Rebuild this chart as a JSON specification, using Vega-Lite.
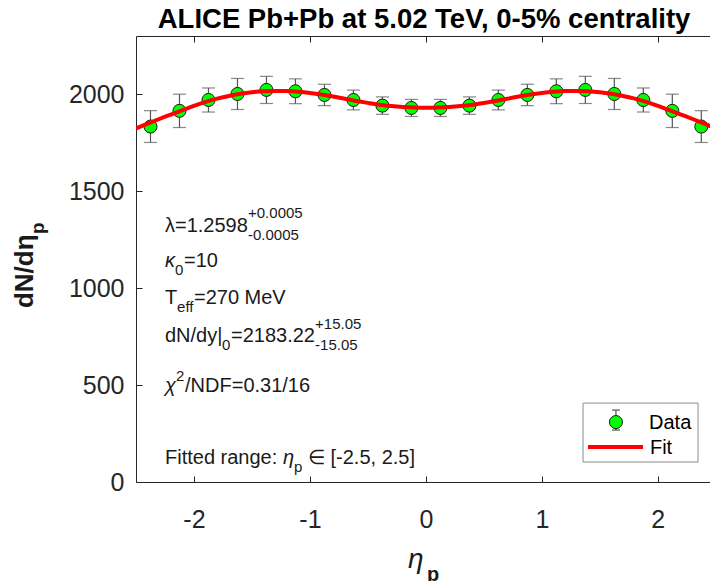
{
  "$schema": "https://vega.github.io/schema/vega-lite/v6.json",
  "width": 574,
  "height": 446,
  "autosize": {"type": "none"},
  "padding": {"left": 136, "top": 36, "right": 0, "bottom": 99},
  "background": "white",
  "config": {"view": {"stroke": null}, "font": "Liberation Sans"},
  "datasets": {
    "alice": [
      {"eta": -2.375, "dndeta": 1833, "err": 82},
      {"eta": -2.125, "dndeta": 1914, "err": 86},
      {"eta": -1.875, "dndeta": 1970, "err": 62},
      {"eta": -1.625, "dndeta": 2001, "err": 80},
      {"eta": -1.375, "dndeta": 2022, "err": 70},
      {"eta": -1.125, "dndeta": 2015, "err": 64},
      {"eta": -0.875, "dndeta": 1996, "err": 55},
      {"eta": -0.625, "dndeta": 1970, "err": 51},
      {"eta": -0.375, "dndeta": 1941, "err": 45},
      {"eta": -0.125, "dndeta": 1929, "err": 44},
      {"eta": 0.125, "dndeta": 1929, "err": 44},
      {"eta": 0.375, "dndeta": 1941, "err": 45},
      {"eta": 0.625, "dndeta": 1970, "err": 51},
      {"eta": 0.875, "dndeta": 1996, "err": 55},
      {"eta": 1.125, "dndeta": 2015, "err": 64},
      {"eta": 1.375, "dndeta": 2022, "err": 70},
      {"eta": 1.625, "dndeta": 2001, "err": 80},
      {"eta": 1.875, "dndeta": 1970, "err": 62},
      {"eta": 2.125, "dndeta": 1914, "err": 86},
      {"eta": 2.375, "dndeta": 1833, "err": 82}
    ],
    "fit": [
      {"eta": -2.5, "dndeta": 1824},
      {"eta": -2.4, "dndeta": 1848},
      {"eta": -2.3, "dndeta": 1872},
      {"eta": -2.2, "dndeta": 1895},
      {"eta": -2.1, "dndeta": 1918},
      {"eta": -2.0, "dndeta": 1940},
      {"eta": -1.9, "dndeta": 1960},
      {"eta": -1.8, "dndeta": 1977},
      {"eta": -1.7, "dndeta": 1991},
      {"eta": -1.6, "dndeta": 2002},
      {"eta": -1.5, "dndeta": 2010},
      {"eta": -1.4, "dndeta": 2015},
      {"eta": -1.3, "dndeta": 2017},
      {"eta": -1.2, "dndeta": 2016},
      {"eta": -1.1, "dndeta": 2012},
      {"eta": -1.0, "dndeta": 2006},
      {"eta": -0.9, "dndeta": 1998},
      {"eta": -0.8, "dndeta": 1988},
      {"eta": -0.7, "dndeta": 1976},
      {"eta": -0.6, "dndeta": 1965},
      {"eta": -0.5, "dndeta": 1955},
      {"eta": -0.4, "dndeta": 1946},
      {"eta": -0.3, "dndeta": 1939},
      {"eta": -0.2, "dndeta": 1934},
      {"eta": -0.1, "dndeta": 1931},
      {"eta": 0.0, "dndeta": 1930},
      {"eta": 0.1, "dndeta": 1931},
      {"eta": 0.2, "dndeta": 1934},
      {"eta": 0.3, "dndeta": 1939},
      {"eta": 0.4, "dndeta": 1946},
      {"eta": 0.5, "dndeta": 1955},
      {"eta": 0.6, "dndeta": 1965},
      {"eta": 0.7, "dndeta": 1976},
      {"eta": 0.8, "dndeta": 1988},
      {"eta": 0.9, "dndeta": 1998},
      {"eta": 1.0, "dndeta": 2006},
      {"eta": 1.1, "dndeta": 2012},
      {"eta": 1.2, "dndeta": 2016},
      {"eta": 1.3, "dndeta": 2017},
      {"eta": 1.4, "dndeta": 2015},
      {"eta": 1.5, "dndeta": 2010},
      {"eta": 1.6, "dndeta": 2002},
      {"eta": 1.7, "dndeta": 1991},
      {"eta": 1.8, "dndeta": 1977},
      {"eta": 1.9, "dndeta": 1960},
      {"eta": 2.0, "dndeta": 1940},
      {"eta": 2.1, "dndeta": 1918},
      {"eta": 2.2, "dndeta": 1895},
      {"eta": 2.3, "dndeta": 1872},
      {"eta": 2.4, "dndeta": 1848},
      {"eta": 2.5, "dndeta": 1824}
    ]
  },
  "resolve": {"axis": {"x": "independent"}},
  "layer": [
    {
      "data": {"name": "alice"},
      "mark": {"type": "errorbar", "ticks": {"size": 13}, "color": "#555555", "thickness": 1.2},
      "encoding": {
        "x": {"field": "eta", "type": "quantitative", "scale": {"domain": [-2.5, 2.45], "nice": false, "zero": false},
              "axis": {"orient": "bottom", "values": [-2, -1, 0, 1, 2], "labelExpr": "'' + datum.value", "title": null, "grid": false, "labelFont": "Liberation Sans", "labelFontSize": 25, "labelColor": "#262626", "tickColor": "#262626", "domainColor": "#262626", "tickSize": -6, "labelPadding": 51, "labelBaseline": "alphabetic"}},
        "y": {"field": "dndeta", "type": "quantitative", "scale": {"domain": [0, 2300], "nice": false},
              "axis": {"values": [0, 500, 1000, 1500, 2000], "labelExpr": "'' + datum.value", "title": null, "grid": false, "labelFont": "Liberation Sans", "labelFontSize": 25, "labelColor": "#262626", "tickColor": "#262626", "domainColor": "#262626", "tickSize": -6, "labelPadding": 18}},
        "yError": {"field": "err"}
      }
    },
    {
      "data": {"name": "alice"},
      "mark": {"type": "point", "filled": true, "size": 170, "fill": "#00ff00", "stroke": "#1a1a1a", "strokeWidth": 1, "opacity": 1},
      "encoding": {
        "x": {"field": "eta", "type": "quantitative",
              "axis": {"orient": "top", "values": [-2, -1, 0, 1, 2], "labels": false, "title": null, "grid": false, "tickColor": "#262626", "domainColor": "#262626", "tickSize": -6}},
        "y": {"field": "dndeta", "type": "quantitative"}
      }
    },
    {
      "data": {"name": "fit"},
      "mark": {"type": "line", "strokeWidth": 4, "color": "#ff0000", "clip": true, "interpolate": "monotone"},
      "encoding": {
        "x": {"field": "eta", "type": "quantitative", "axis": null},
        "y": {"field": "dndeta", "type": "quantitative"}
      }
    },
    {"data": {"values": [{"t": "ALICE Pb+Pb at 5.02 TeV, 0-5% centrality"}]}, "mark": {"type": "text", "align": "center", "baseline": "alphabetic", "fontSize": 27.5, "fontWeight": "bold", "color": "black"},
     "encoding": {"x": {"datum": -0.016, "type": "quantitative", "axis": null}, "y": {"datum": 2341, "type": "quantitative"}, "text": {"field": "t"}}},
    {"data": {"values": [{"t": "λ=1.2598"}]}, "mark": {"type": "text", "align": "left", "baseline": "alphabetic", "fontSize": 20, "color": "#1a1a1a"},
     "encoding": {"x": {"datum": -2.25, "type": "quantitative", "axis": null}, "y": {"datum": 1289, "type": "quantitative"}, "text": {"field": "t"}}},
    {"data": {"values": [{"t": "+0.0005"}]}, "mark": {"type": "text", "align": "left", "baseline": "alphabetic", "fontSize": 15, "color": "#1a1a1a"},
     "encoding": {"x": {"datum": -1.534, "type": "quantitative", "axis": null}, "y": {"datum": 1361, "type": "quantitative"}, "text": {"field": "t"}}},
    {"data": {"values": [{"t": "-0.0005"}]}, "mark": {"type": "text", "align": "left", "baseline": "alphabetic", "fontSize": 15, "color": "#1a1a1a"},
     "encoding": {"x": {"datum": -1.534, "type": "quantitative", "axis": null}, "y": {"datum": 1248, "type": "quantitative"}, "text": {"field": "t"}}},
    {"data": {"values": [{"t": "κ"}]}, "mark": {"type": "text", "align": "left", "baseline": "alphabetic", "fontSize": 20, "fontStyle": "italic", "color": "#1a1a1a"},
     "encoding": {"x": {"datum": -2.25, "type": "quantitative", "axis": null}, "y": {"datum": 1109, "type": "quantitative"}, "text": {"field": "t"}}},
    {"data": {"values": [{"t": "0"}]}, "mark": {"type": "text", "align": "left", "baseline": "alphabetic", "fontSize": 15, "color": "#1a1a1a"},
     "encoding": {"x": {"datum": -2.164, "type": "quantitative", "axis": null}, "y": {"datum": 1067, "type": "quantitative"}, "text": {"field": "t"}}},
    {"data": {"values": [{"t": "=10"}]}, "mark": {"type": "text", "align": "left", "baseline": "alphabetic", "fontSize": 20, "color": "#1a1a1a"},
     "encoding": {"x": {"datum": -2.086, "type": "quantitative", "axis": null}, "y": {"datum": 1109, "type": "quantitative"}, "text": {"field": "t"}}},
    {"data": {"values": [{"t": "T"}]}, "mark": {"type": "text", "align": "left", "baseline": "alphabetic", "fontSize": 20, "color": "#1a1a1a"},
     "encoding": {"x": {"datum": -2.25, "type": "quantitative", "axis": null}, "y": {"datum": 918, "type": "quantitative"}, "text": {"field": "t"}}},
    {"data": {"values": [{"t": "eff"}]}, "mark": {"type": "text", "align": "left", "baseline": "alphabetic", "fontSize": 15, "color": "#1a1a1a"},
     "encoding": {"x": {"datum": -2.146, "type": "quantitative", "axis": null}, "y": {"datum": 877, "type": "quantitative"}, "text": {"field": "t"}}},
    {"data": {"values": [{"t": "=270 MeV"}]}, "mark": {"type": "text", "align": "left", "baseline": "alphabetic", "fontSize": 20, "color": "#1a1a1a"},
     "encoding": {"x": {"datum": -2.0, "type": "quantitative", "axis": null}, "y": {"datum": 918, "type": "quantitative"}, "text": {"field": "t"}}},
    {"data": {"values": [{"t": "dN/dy|"}]}, "mark": {"type": "text", "align": "left", "baseline": "alphabetic", "fontSize": 20, "color": "#1a1a1a"},
     "encoding": {"x": {"datum": -2.25, "type": "quantitative", "axis": null}, "y": {"datum": 722, "type": "quantitative"}, "text": {"field": "t"}}},
    {"data": {"values": [{"t": "0"}]}, "mark": {"type": "text", "align": "left", "baseline": "alphabetic", "fontSize": 15, "color": "#1a1a1a"},
     "encoding": {"x": {"datum": -1.758, "type": "quantitative", "axis": null}, "y": {"datum": 681, "type": "quantitative"}, "text": {"field": "t"}}},
    {"data": {"values": [{"t": "=2183.22"}]}, "mark": {"type": "text", "align": "left", "baseline": "alphabetic", "fontSize": 20, "color": "#1a1a1a"},
     "encoding": {"x": {"datum": -1.681, "type": "quantitative", "axis": null}, "y": {"datum": 722, "type": "quantitative"}, "text": {"field": "t"}}},
    {"data": {"values": [{"t": "+15.05"}]}, "mark": {"type": "text", "align": "left", "baseline": "alphabetic", "fontSize": 15, "color": "#1a1a1a"},
     "encoding": {"x": {"datum": -0.956, "type": "quantitative", "axis": null}, "y": {"datum": 789, "type": "quantitative"}, "text": {"field": "t"}}},
    {"data": {"values": [{"t": "-15.05"}]}, "mark": {"type": "text", "align": "left", "baseline": "alphabetic", "fontSize": 15, "color": "#1a1a1a"},
     "encoding": {"x": {"datum": -0.956, "type": "quantitative", "axis": null}, "y": {"datum": 681, "type": "quantitative"}, "text": {"field": "t"}}},
    {"data": {"values": [{"t": "χ"}]}, "mark": {"type": "text", "align": "left", "baseline": "alphabetic", "fontSize": 20, "fontStyle": "italic", "color": "#1a1a1a"},
     "encoding": {"x": {"datum": -2.25, "type": "quantitative", "axis": null}, "y": {"datum": 464, "type": "quantitative"}, "text": {"field": "t"}}},
    {"data": {"values": [{"t": "2"}]}, "mark": {"type": "text", "align": "left", "baseline": "alphabetic", "fontSize": 15, "color": "#1a1a1a"},
     "encoding": {"x": {"datum": -2.155, "type": "quantitative", "axis": null}, "y": {"datum": 521, "type": "quantitative"}, "text": {"field": "t"}}},
    {"data": {"values": [{"t": "/NDF=0.31/16"}]}, "mark": {"type": "text", "align": "left", "baseline": "alphabetic", "fontSize": 20, "color": "#1a1a1a"},
     "encoding": {"x": {"datum": -2.077, "type": "quantitative", "axis": null}, "y": {"datum": 464, "type": "quantitative"}, "text": {"field": "t"}}},
    {"data": {"values": [{"t": "Fitted range:"}]}, "mark": {"type": "text", "align": "left", "baseline": "alphabetic", "fontSize": 20, "color": "#1a1a1a"},
     "encoding": {"x": {"datum": -2.25, "type": "quantitative", "axis": null}, "y": {"datum": 93, "type": "quantitative"}, "text": {"field": "t"}}},
    {"data": {"values": [{"t": "η"}]}, "mark": {"type": "text", "align": "left", "baseline": "alphabetic", "fontSize": 20, "fontStyle": "italic", "color": "#1a1a1a"},
     "encoding": {"x": {"datum": -1.232, "type": "quantitative", "axis": null}, "y": {"datum": 93, "type": "quantitative"}, "text": {"field": "t"}}},
    {"data": {"values": [{"t": "p"}]}, "mark": {"type": "text", "align": "left", "baseline": "alphabetic", "fontSize": 15, "color": "#1a1a1a"},
     "encoding": {"x": {"datum": -1.138, "type": "quantitative", "axis": null}, "y": {"datum": 52, "type": "quantitative"}, "text": {"field": "t"}}},
    {"data": {"values": [{"t": "∈ [-2.5, 2.5]"}]}, "mark": {"type": "text", "align": "left", "baseline": "alphabetic", "fontSize": 20, "color": "#1a1a1a"},
     "encoding": {"x": {"datum": -1.017, "type": "quantitative", "axis": null}, "y": {"datum": 93, "type": "quantitative"}, "text": {"field": "t"}}},
    {"data": {"values": [{"t": "dN/dη"}]}, "mark": {"type": "text", "align": "left", "baseline": "alphabetic", "fontSize": 26, "fontWeight": "bold", "angle": 270, "color": "#1a1a1a"},
     "encoding": {"x": {"datum": -3.388, "type": "quantitative", "axis": null}, "y": {"datum": 897, "type": "quantitative"}, "text": {"field": "t"}}},
    {"data": {"values": [{"t": "p"}]}, "mark": {"type": "text", "align": "left", "baseline": "alphabetic", "fontSize": 19, "fontWeight": "bold", "angle": 270, "color": "#1a1a1a"},
     "encoding": {"x": {"datum": -3.293, "type": "quantitative", "axis": null}, "y": {"datum": 1279, "type": "quantitative"}, "text": {"field": "t"}}},
    {"data": {"values": [{"t": "η"}]}, "mark": {"type": "text", "align": "left", "baseline": "alphabetic", "fontSize": 28, "fontStyle": "italic", "color": "#1a1a1a"},
     "encoding": {"x": {"datum": -0.154, "type": "quantitative", "axis": null}, "y": {"datum": -443, "type": "quantitative"}, "text": {"field": "t"}}},
    {"data": {"values": [{"t": "p"}]}, "mark": {"type": "text", "align": "left", "baseline": "alphabetic", "fontSize": 20, "fontWeight": "bold", "color": "#1a1a1a"},
     "encoding": {"x": {"datum": 0.01, "type": "quantitative", "axis": null}, "y": {"datum": -510, "type": "quantitative"}, "text": {"field": "t"}}},
    {"data": {"values": [{"box": "legend"}]}, "mark": {"type": "rect", "fill": "white", "stroke": "#8c8c8c", "strokeWidth": 1},
     "encoding": {"x": {"datum": 1.355, "type": "quantitative", "axis": null}, "x2": {"datum": 2.347}, "y": {"datum": 407, "type": "quantitative"}, "y2": {"datum": 103}}},
    {"data": {"values": [{"item": "Data"}]}, "mark": {"type": "rule", "color": "#555555", "strokeWidth": 1.2},
     "encoding": {"x": {"datum": 1.639, "type": "quantitative", "axis": null}, "y": {"datum": 371, "type": "quantitative"}, "y2": {"datum": 268}}},
    {"data": {"values": [{"item": "Data"}]}, "mark": {"type": "rule", "color": "#555555", "strokeWidth": 1.2},
     "encoding": {"x": {"datum": 1.605, "type": "quantitative", "axis": null}, "x2": {"datum": 1.674}, "y": {"datum": 371, "type": "quantitative"}}},
    {"data": {"values": [{"item": "Data"}]}, "mark": {"type": "rule", "color": "#555555", "strokeWidth": 1.2},
     "encoding": {"x": {"datum": 1.605, "type": "quantitative", "axis": null}, "x2": {"datum": 1.674}, "y": {"datum": 268, "type": "quantitative"}}},
    {"data": {"values": [{"item": "Data"}]}, "mark": {"type": "point", "filled": true, "size": 170, "fill": "#00ff00", "stroke": "#1a1a1a", "strokeWidth": 1, "opacity": 1},
     "encoding": {"x": {"datum": 1.639, "type": "quantitative", "axis": null}, "y": {"datum": 309, "type": "quantitative"}}},
    {"data": {"values": [{"item": "Fit"}]}, "mark": {"type": "rule", "color": "#ff0000", "strokeWidth": 4},
     "encoding": {"x": {"datum": 1.398, "type": "quantitative", "axis": null}, "x2": {"datum": 1.872}, "y": {"datum": 180, "type": "quantitative"}}},
    {"data": {"values": [{"t": "Data"}]}, "mark": {"type": "text", "align": "left", "baseline": "alphabetic", "fontSize": 20, "color": "black"},
     "encoding": {"x": {"datum": 1.924, "type": "quantitative", "axis": null}, "y": {"datum": 273, "type": "quantitative"}, "text": {"field": "t"}}},
    {"data": {"values": [{"t": "Fit"}]}, "mark": {"type": "text", "align": "left", "baseline": "alphabetic", "fontSize": 20, "color": "black"},
     "encoding": {"x": {"datum": 1.932, "type": "quantitative", "axis": null}, "y": {"datum": 144, "type": "quantitative"}, "text": {"field": "t"}}}
  ]
}
